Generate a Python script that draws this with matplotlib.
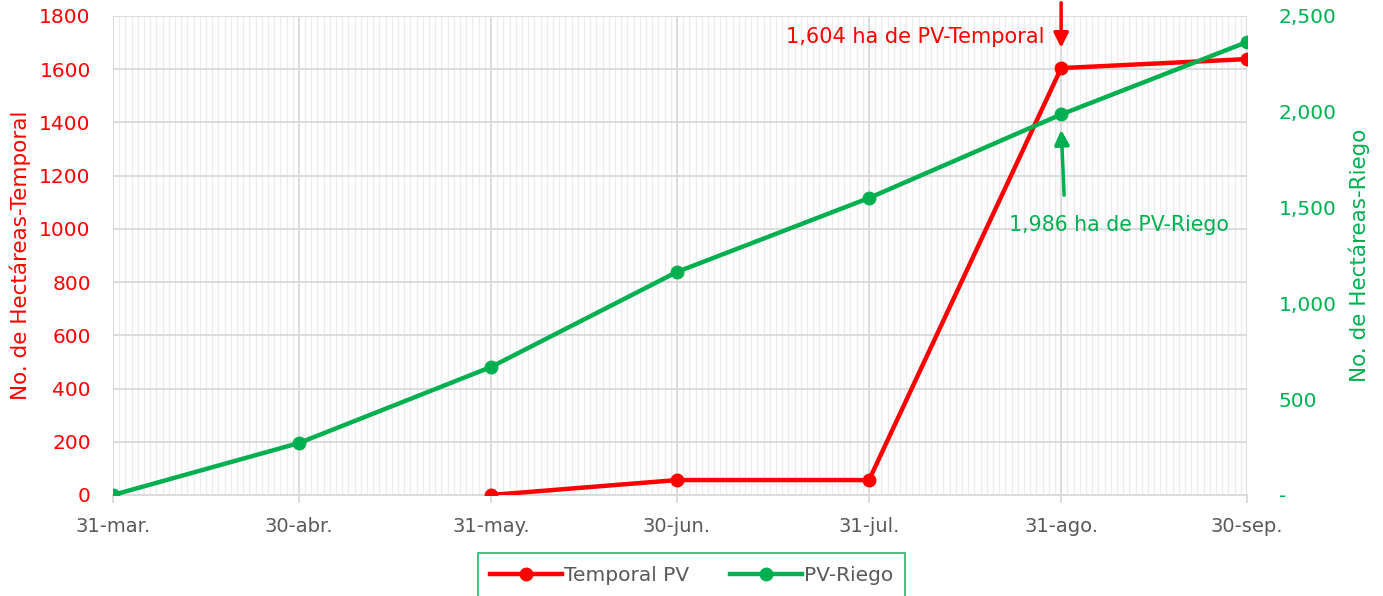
import matplotlib.pyplot as plt
import matplotlib.dates as mdates
import numpy as np
from datetime import date, timedelta
from matplotlib.ticker import FixedLocator, FuncFormatter

plt.rcParams["font.family"] = ["DejaVu Sans"]

# data
fechas = [date(2024, 3, 31), date(2024, 4, 30), date(2024, 5, 31), date(2024, 6, 30),
          date(2024, 7, 31), date(2024, 8, 31), date(2024, 9, 30)]
etiquetas = ["31-mar.", "30-abr.", "31-may.", "30-jun.", "31-jul.", "31-ago.", "30-sep."]
temporal = [np.nan, np.nan, 0, 56, 56, 1604, 1638]
riego = [0, 271, 668, 1164, 1550, 1986, 2364]

RED = "#FF0000"
GREEN = "#00B050"
GRAY = "#595959"

fig = plt.figure(figsize=(13.83, 5.96), dpi=100)
ax = fig.add_axes([0.0817, 0.1695, 0.82, 0.8037])
ax2 = ax.twinx()

x = mdates.date2num(fechas)

# grid: daily minor verticals, monthly major verticals, horizontal majors
dias = [fechas[0] + timedelta(days=i) for i in range((fechas[-1] - fechas[0]).days + 1)]
ax.xaxis.set_minor_locator(FixedLocator(mdates.date2num(dias)))
ax.xaxis.set_major_locator(FixedLocator(x))
ax.set_xticklabels(etiquetas)
ax.grid(which="minor", axis="x", color="#EDEDED", lw=1.0)
ax.grid(which="major", axis="x", color="#D9D9D9", lw=1.3)
ax.grid(which="major", axis="y", color="#D9D9D9", lw=1.3)
ax.set_axisbelow(True)

ax.plot(x, temporal, color=RED, lw=3.2, marker="o", ms=9, label="Temporal PV", zorder=3)
ax2.plot(x, riego, color=GREEN, lw=3.2, marker="o", ms=9, label="PV-Riego", zorder=3)

ax.set_xlim(x[0], x[-1])
ax.set_ylim(0, 1800)
ax.set_yticks(np.arange(0, 1801, 200))
ax2.set_ylim(0, 2500)
ax2.set_yticks(np.arange(0, 2501, 500))
ax2.yaxis.set_major_formatter(FuncFormatter(lambda v, p: "-" if v == 0 else f"{int(v):,}"))

for a in (ax, ax2):
    for s in a.spines.values():
        s.set_visible(False)
ax.spines["bottom"].set_visible(True)
ax.spines["bottom"].set_color("#D9D9D9")
ax.spines["bottom"].set_linewidth(1.3)

ax.tick_params(axis="x", which="major", colors="#D9D9D9", length=6, width=1.3,
               labelcolor=GRAY, labelsize=14, pad=10)
ax.tick_params(axis="x", which="minor", length=0)
ax.tick_params(axis="y", length=0, labelcolor=RED, labelsize=14.5, pad=16)
ax2.tick_params(axis="y", length=0, labelcolor=GREEN, labelsize=14.5, pad=23)

ax.set_ylabel("No. de Hectáreas-Temporal", color=RED, fontsize=15.5, labelpad=6)
ax2.set_ylabel("No. de Hectáreas-Riego", color=GREEN, fontsize=15.5, labelpad=8)

# annotations
ax.annotate("", xy=(x[5], 1670), xytext=(x[5], 1860), annotation_clip=False,
            arrowprops=dict(arrowstyle="-|>", color=RED, lw=2.5, mutation_scale=22))
ax.text(x[5] - 2.7, 1720, "1,604 ha de PV-Temporal", color=RED, fontsize=15,
        ha="right", va="center")
ax2.annotate("", xy=(x[5], 1920), xytext=(x[5] + 0.5, 1550),
             arrowprops=dict(arrowstyle="-|>", color=GREEN, lw=2.5, mutation_scale=22))
ax2.text(x[5] + 9.3, 1410, "1,986 ha de PV-Riego", color=GREEN, fontsize=14.8,
         ha="center", va="center")

h1, l1 = ax.get_legend_handles_labels()
h2, l2 = ax2.get_legend_handles_labels()
leg = fig.legend(h1 + h2, l1 + l2, loc="lower center", bbox_to_anchor=(0.5, -0.018),
                 ncol=2, fontsize=14.5, frameon=True, fancybox=False, handlelength=3.6,
                 handletextpad=0.1, columnspacing=2.0, borderpad=0.6, borderaxespad=0.5)
leg.get_frame().set_edgecolor(GREEN)
leg.get_frame().set_linewidth(1.3)
for t in leg.get_texts():
    t.set_color(GRAY)

fig.savefig("out.png", dpi=100)
